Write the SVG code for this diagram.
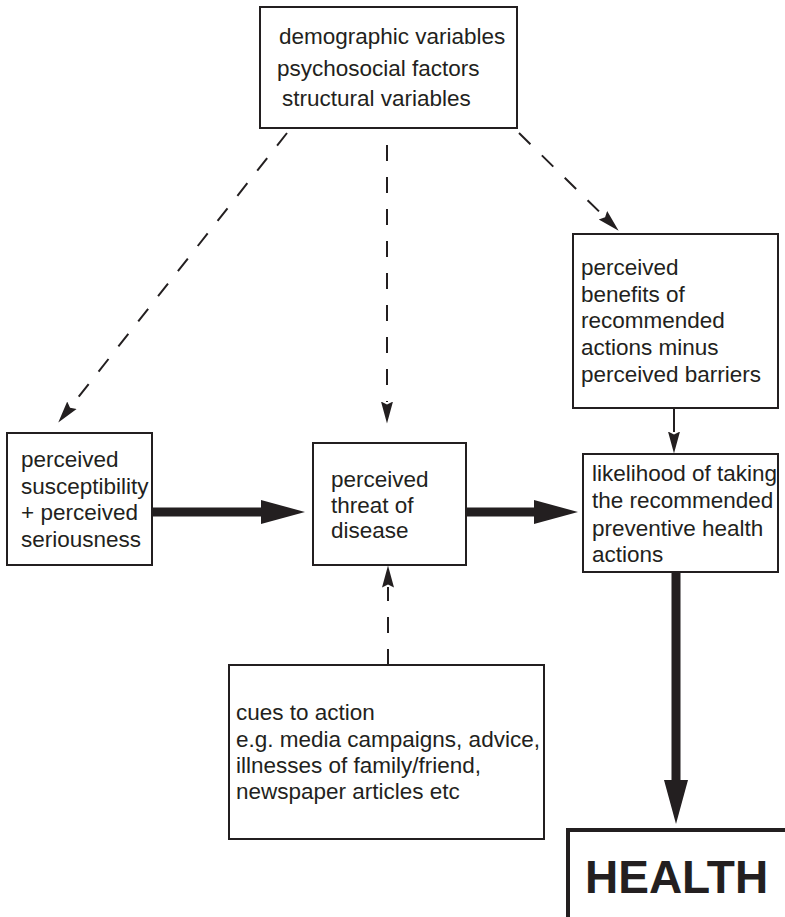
<svg xmlns="http://www.w3.org/2000/svg" width="785" height="917" viewBox="0 0 785 917">
  <style>
    .box { fill: #ffffff; stroke: #231f20; stroke-width: 2; }
    .label { font-family: "Liberation Sans", Arial, Helvetica, sans-serif; font-size: 22.5px; fill: #231f20; }
    .big { font-family: "Liberation Sans", Arial, Helvetica, sans-serif; font-size: 46px; font-weight: bold; fill: #231f20; }
    .dashed { fill: none; stroke: #231f20; stroke-width: 2; stroke-dasharray: 16 16; }
    .thin { fill: none; stroke: #231f20; stroke-width: 2; }
    .thick { fill: none; stroke: #231f20; stroke-width: 9; }
  </style>
  <defs>
    <marker id="head" markerUnits="userSpaceOnUse" markerWidth="24" markerHeight="14" refX="0.5" refY="6.5" orient="auto">
      <path d="M0,0.5 L22,6.5 L0,12.5 L3,6.5 z" fill="#231f20"/>
    </marker>
    <marker id="headBold" markerUnits="userSpaceOnUse" markerWidth="46" markerHeight="26" refX="1" refY="12" orient="auto">
      <path d="M0,0 L44,12 L0,24 z" fill="#231f20"/>
    </marker>
  </defs>

  <g id="connectors">
    <!-- dashed influences from the modifying factors -->
    <line class="dashed" x1="287" y1="133" x2="71.6" y2="405.7" marker-end="url(#head)"/>
    <line class="dashed" x1="387" y1="145" x2="387" y2="402" marker-end="url(#head)"/>
    <line class="dashed" x1="519" y1="133" x2="603.3" y2="215.6" marker-end="url(#head)"/>
    <line class="dashed" x1="388" y1="665" x2="388" y2="587" marker-end="url(#head)"/>
    <!-- benefits/barriers into likelihood -->
    <line class="thin" x1="674" y1="408" x2="674" y2="432" marker-end="url(#head)"/>
    <!-- main causal chain -->
    <line class="thick" x1="152" y1="512" x2="262" y2="512" marker-end="url(#headBold)"/>
    <line class="thick" x1="466" y1="512" x2="535" y2="512" marker-end="url(#headBold)"/>
    <line class="thick" x1="676" y1="572" x2="676" y2="781" marker-end="url(#headBold)"/>
  </g>

  <g id="modifying-factors">
    <rect class="box" x="260" y="7" width="257" height="121"/>
    <text class="label" x="279" y="44">demographic variables</text>
    <text class="label" x="277" y="76">psychosocial factors</text>
    <text class="label" x="282" y="106">structural variables</text>
  </g>

  <g id="susceptibility">
    <rect class="box" x="7" y="433" width="145" height="132"/>
    <text class="label" x="21" y="467">perceived</text>
    <text class="label" x="21" y="494">susceptibility</text>
    <text class="label" x="21" y="520">+ perceived</text>
    <text class="label" x="21" y="547">seriousness</text>
  </g>

  <g id="threat">
    <rect class="box" x="313" y="443" width="153" height="122"/>
    <text class="label" x="331" y="487">perceived</text>
    <text class="label" x="331" y="513">threat of</text>
    <text class="label" x="331" y="538">disease</text>
  </g>

  <g id="benefits">
    <rect class="box" x="573" y="234" width="205" height="174"/>
    <text class="label" x="581" y="275">perceived</text>
    <text class="label" x="581" y="302">benefits of</text>
    <text class="label" x="581" y="328">recommended</text>
    <text class="label" x="581" y="355">actions minus</text>
    <text class="label" x="581" y="382">perceived barriers</text>
  </g>

  <g id="likelihood">
    <rect class="box" x="583" y="454" width="195" height="118"/>
    <text class="label" x="592" y="481">likelihood of taking</text>
    <text class="label" x="592" y="508">the recommended</text>
    <text class="label" x="592" y="536">preventive health</text>
    <text class="label" x="592" y="562">actions</text>
  </g>

  <g id="cues">
    <rect class="box" x="229" y="665" width="315" height="174"/>
    <text class="label" x="236" y="720">cues to action</text>
    <text class="label" x="236" y="747">e.g. media campaigns, advice,</text>
    <text class="label" x="236" y="773">illnesses of family/friend,</text>
    <text class="label" x="236" y="799">newspaper articles etc</text>
  </g>

  <g id="health">
    <rect x="568" y="830" width="240" height="120" fill="#ffffff" stroke="#231f20" stroke-width="4"/>
    <text class="big" x="585" y="893">HEALTH</text>
  </g>
</svg>
